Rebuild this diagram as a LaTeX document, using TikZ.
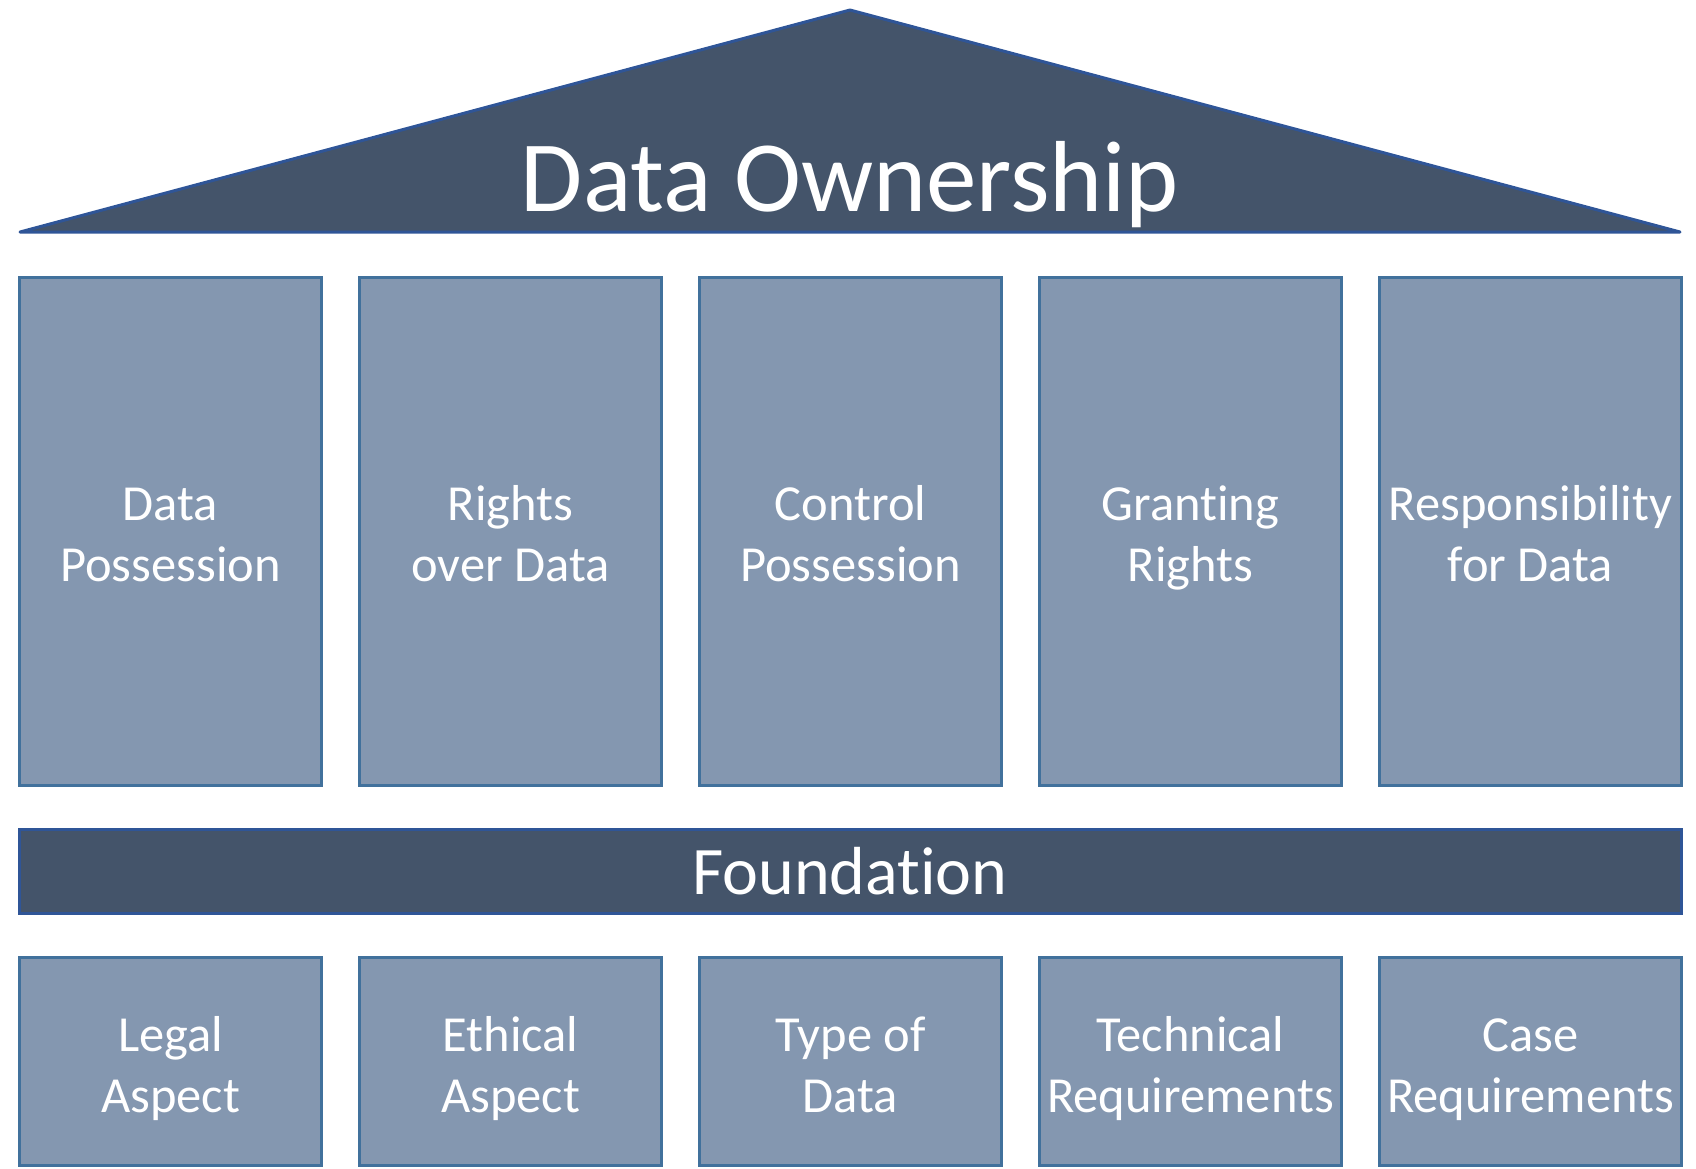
\documentclass[tikz,border=0pt]{standalone}
\usepackage{fontspec}
\setmainfont{Carlito}[Ligatures=NoCommon]
\definecolor{darkfill}{HTML}{44546A}
\definecolor{darkline}{HTML}{2F5597}
\definecolor{pillarfill}{HTML}{8497B0}
\definecolor{pillarline}{HTML}{41719C}
\tikzset{
  boxbase/.style={draw=pillarline, fill=pillarfill, line width=3pt,
    minimum width=302pt, inner sep=0pt},
  label text/.style={text width=300pt, align=flush center, text=white,
    inner sep=0pt, font=\fontsize{50.5}{61}\selectfont},
  tallbox/.style={boxbase, minimum height=508pt},
  basebox/.style={boxbase, minimum height=208pt},
}
\begin{document}
\begin{tikzpicture}[x=1pt,y=1pt]
  \useasboundingbox (0,0) rectangle (1696,-1168);
  % roof
  \draw[darkline, fill=darkfill, line width=3pt, line join=round]
    (20,-232) -- (850,-10) -- (1680,-232) -- cycle;
  \node[text=white, font=\fontsize{101}{110}\selectfont, anchor=base]
    (roof) at (850,-211) {Data Ownership};
  % pillars
  \foreach \i/\txt in {0/{Data\\Possession},1/{Rights\\over Data},
      2/{Control\\Possession},3/{Granting\\Rights},4/{Responsibility\\for Data}}{
    \node[tallbox] (p\i) at ({170.5+340*\i},-531.5) {};
    \node[label text, anchor=base] (pt\i) at ([yshift=11pt]p\i.center) {\txt};
  }
  % foundation beam
  \node[draw=darkline, fill=darkfill, line width=3pt, minimum width=1662pt,
    minimum height=84pt, inner sep=0pt, text=white,
    font=\fontsize{68}{74}\selectfont] (found) at (850,-871) {Foundation};
  % base blocks
  \foreach \i/\txt in {0/{Legal\\Aspect},1/{Ethical\\Aspect},
      2/{Type of\\Data},3/{Technical\\Requirements},4/{Case\\Requirements}}{
    \node[basebox] (b\i) at ({170.5+340*\i},-1061) {};
    \node[label text, anchor=base] (t\i) at ([yshift=10pt]b\i.center) {\txt};
  }
\end{tikzpicture}
\end{document}
